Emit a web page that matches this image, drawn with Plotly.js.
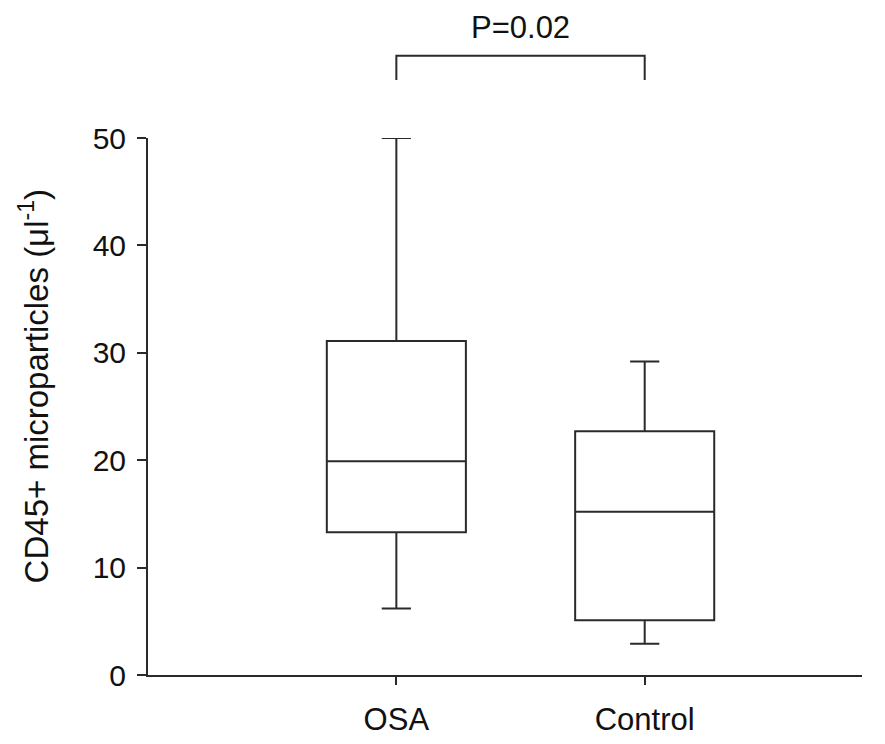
<!DOCTYPE html>
<html>
<head>
<meta charset="utf-8">
<script src="https://cdn.plot.ly/plotly-3.0.1.min.js"></script>
<style>html,body{margin:0;padding:0;background:#fff;}</style>
</head>
<body>
<div id="chart" style="width:885px;height:744px;"></div>
<script>
// Data
const categories = ["OSA", "Control"];
const lowerWhisker = [6.2, 2.9];
const q1Values = [13.3, 5.1];
const medianValues = [19.9, 15.2];
const q3Values = [31.1, 22.7];
const upperWhisker = [50.0, 29.2];
const pValueText = "P=0.02";
const yTitleText = "CD45+ microparticles (\u03bcl<sup>-1</sup>)";
const yTickValues = [0, 10, 20, 30, 40, 50];

const lineColor = "#2a2a2a";
const textColor = "#111";
const fontFam = "Liberation Sans, Arial, sans-serif";

const traces = categories.map((c, i) => ({
  type: "box",
  x: [c],
  q1: [q1Values[i]],
  median: [medianValues[i]],
  q3: [q3Values[i]],
  lowerfence: [lowerWhisker[i]],
  upperfence: [upperWhisker[i]],
  width: 0.56,
  whiskerwidth: 0.21,
  boxpoints: false,
  fillcolor: "rgba(255,255,255,0)",
  line: {color: lineColor, width: 2},
  hoverinfo: "skip",
  showlegend: false
}));

const layout = {
  width: 885,
  height: 744,
  margin: {l: 148, r: 23, t: 138, b: 69},
  paper_bgcolor: "#fff",
  plot_bgcolor: "#fff",
  showlegend: false,
  font: {family: fontFam, color: textColor, size: 30},
  xaxis: {
    type: "category",
    categoryarray: categories,
    range: [-1.0, 1.875],
    showline: true,
    linecolor: lineColor,
    linewidth: 2,
    ticks: "outside",
    ticklen: 8,
    tickwidth: 2,
    tickcolor: lineColor,
    showgrid: false,
    zeroline: false,
    tickfont: {size: 31, family: fontFam, color: textColor},
    ticklabelstandoff: 8,
    automargin: false
  },
  yaxis: {
    range: [0, 50],
    tickvals: yTickValues,
    showline: true,
    linecolor: lineColor,
    linewidth: 2,
    ticks: "outside",
    ticklen: 9,
    tickwidth: 2,
    tickcolor: lineColor,
    showgrid: false,
    zeroline: false,
    tickfont: {size: 30, family: fontFam, color: textColor},
    ticklabelstandoff: 5,
    automargin: false
  },
  shapes: [{
    type: "path",
    xref: "x",
    yref: "paper",
    path: "M 0,1.108 L 0,1.153 L 1,1.153 L 1,1.108",
    line: {color: lineColor, width: 2}
  }],
  annotations: [{
    xref: "x",
    yref: "paper",
    x: 0.5,
    y: 1.205,
    text: pValueText,
    showarrow: false,
    xanchor: "center",
    yanchor: "middle",
    font: {size: 31, family: fontFam, color: textColor}
  }, {
    xref: "paper",
    yref: "paper",
    x: -0.16,
    y: 0.537,
    text: yTitleText,
    textangle: -90,
    showarrow: false,
    xanchor: "center",
    yanchor: "middle",
    font: {size: 33, family: fontFam, color: textColor}
  }]
};

Plotly.newPlot("chart", traces, layout, {displayModeBar: false, staticPlot: true});
</script>
</body>
</html>
